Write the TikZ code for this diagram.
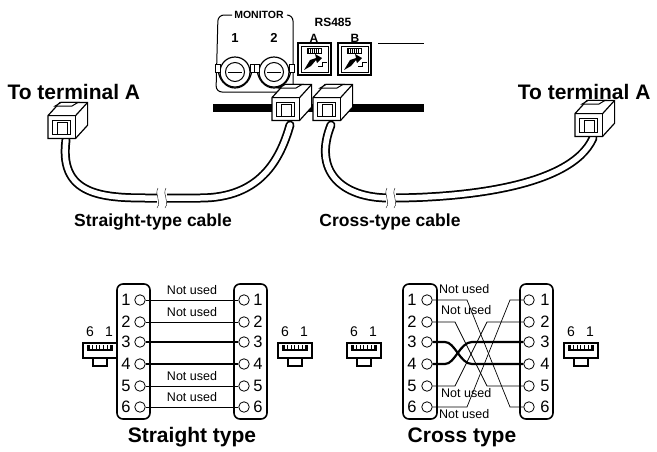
\documentclass[tikz,border=0pt]{standalone}
\usepackage{fontspec}
\setmainfont{Liberation Sans}
\begin{document}
\begin{tikzpicture}[x=1pt,y=-1pt,
 big/.style={font=\bfseries\fontsize{21}{21}\selectfont},
 mid/.style={font=\bfseries\fontsize{17.5}{17.5}\selectfont},
 pin/.style={font=\fontsize{16.5}{16.5}\selectfont},
 nu/.style={font=\fontsize{12.5}{12.5}\selectfont,inner sep=1pt},
 hole/.style={circle,draw,thick,fill=white,minimum size=10.5pt,inner sep=0pt},
 wire/.style={line width=0.7pt},
 thk/.style={line width=2.2pt},
 box/.style={draw,line width=1.6pt,rounded corners=6pt},
 cab/.style={line width=9pt,line cap=round},
 cabi/.style={line width=5.5pt,white,line cap=round}]
\useasboundingbox (0,0) rectangle (657,451);
% ---------- top panel
\node[big,anchor=west] (tl) at (4,92) {To terminal A};
\node[big,anchor=east] (tr) at (654,92) {To terminal A};
\draw[line width=1pt,rounded corners=6pt] (232,15) -- (218,15) -- (216,92) -- (293,92) -- (293,15) -- (287,15);
\node[font=\bfseries\fontsize{10.5}{10.5}\selectfont] (mon) at (259,15) {MONITOR};
\node[font=\bfseries\fontsize{13}{13}\selectfont] (m1) at (235,38) {1};
\node[font=\bfseries\fontsize{13}{13}\selectfont] (m2) at (274,38) {2};
\foreach \x/\n in {235/b1,274/b2}{
 \draw[line width=1.2pt] (\x-17,68) arc (180:0:17 and 20);
 \draw[line width=1.2pt,fill=white] (\x,72) circle (15);
 \draw[line width=1pt] (\x,72) circle (9.5);
 \draw[line width=0.8pt] (\x-7,72) -- (\x+7,72);
 \draw[line width=0.8pt,fill=white] (\x-20,64) rectangle (\x-15,72);
 \draw[line width=0.8pt,fill=white] (\x+15,64) rectangle (\x+20,72);
 \coordinate (\n) at (\x,72);}
\node[font=\bfseries\fontsize{12}{12}\selectfont] (rs) at (333,22) {RS485};
\node[font=\bfseries\fontsize{12}{12}\selectfont] (ja) at (314,38) {A};
\node[font=\bfseries\fontsize{12}{12}\selectfont] (jb) at (355,38) {B};
\foreach \x in {298,338}{
 \draw[line width=1.2pt] (\x,43) rectangle (\x+33,75);
 \draw[line width=0.6pt] (\x+3,46) rectangle (\x+30,72);
 \foreach \i in {0,...,5}\draw (\x+10+\i*2,49) -- (\x+10+\i*2,53);
 \draw[line width=0.6pt] (\x+9,48) rectangle (\x+23,53);
 \fill (\x+6,70) -- (\x+12,60) -- (\x+18,58) -- (\x+17,54) -- (\x+24,58) -- (\x+19,63) -- (\x+18,60) -- (\x+13,66) -- cycle;
 \draw (\x+20,66) -- (\x+24,66) -- (\x+24,62) -- (\x+29,62);}
\coordinate (ln1) at (378,43); \coordinate (ln2) at (424,43);
\draw[line width=0.8pt] (ln1) -- (ln2);
\fill (213,104) rectangle (424,112);
% cables
\coordinate (lp) at (66,140); \coordinate (sp) at (290,125);
\coordinate (cp) at (331,125); \coordinate (rp) at (593,138);
\def\lcab{(lp) .. controls (58,200) and (110,198) .. (160,198) -- (200,198) .. controls (260,198) and (280,160) .. (sp)}
\def\rcab{(cp) .. controls (313,170) and (340,198) .. (390,198) .. controls (450,198) and (570,190) .. (rp)}
\draw[cab] \lcab; \draw[cabi] \lcab;
\draw[cab] \rcab; \draw[cabi] \rcab;
\fill[white] (157,188) rectangle (167,208);
\draw (158,188) .. controls (154,195) and (162,201) .. (157,208);
\draw (166,188) .. controls (162,195) and (170,201) .. (165,208);
\fill[white] (386,188) rectangle (396,208);
\draw (387,188) .. controls (383,195) and (391,201) .. (386,208);
\draw (395,188) .. controls (391,195) and (399,201) .. (394,208);
% plugs
\foreach \x/\y in {66/142, 290/124, 331/124, 593/140}{
\begin{scope}[shift={(\x,\y)},scale=1.2]
 \draw[line width=1.2pt,fill=white] (-15,-3) -- (-15,-22) -- (-5,-33) -- (18,-33) -- (18,-14) -- (8,-3) -- cycle;
 \draw[line width=1.2pt] (-15,-22) -- (8,-22) -- (18,-33);
 \draw[line width=1.2pt] (8,-22) -- (8,-3);
 \draw[line width=1pt] (-11,-18) rectangle (4,-6);
 \draw[line width=1pt] (-7,-16) rectangle (1,-6);
 \draw[line width=1pt,fill=white] (-9,-30) -- (-4,-33) -- (10,-33) -- (5,-30) -- cycle;
\end{scope}}
\node[mid] (sc) at (153,222) {Straight-type cable};
\node[mid] (cc) at (390,222) {Cross-type cable};
% ---------- bottom: plug icons
\foreach \x in {83,278,347,564}{
 \node[font=\fontsize{14}{14}\selectfont] at (\x+7,332) {6};
 \node[font=\fontsize{14}{14}\selectfont] at (\x+26,332) {1};
 \draw[line width=1.2pt,fill=white] (\x,343) rectangle (\x+34,358);
 \foreach \i in {0,...,6}\draw[line width=1pt] (\x+6+\i*3.6,345) -- (\x+6+\i*3.6,350);
 \draw[line width=1.2pt] (\x+5,345) -- (\x+5,350) -- (\x+29,350) -- (\x+29,345);
 \draw[line width=1.2pt] (\x+10,358) rectangle (\x+24,366);}
\draw[box] (117,284) rectangle (150,419);
\draw[box] (234,284) rectangle (267,419);
\draw[box] (403,284) rectangle (437,419);
\draw[box] (520,284) rectangle (553,419);
\foreach \i/\y in {1/300,2/322,3/342,4/364,5/386,6/407}{
 \node[pin] at (126,\y) {\i};
 \node[pin] at (258,\y) {\i};
 \node[pin] at (412,\y) {\i};
 \node[pin] at (545,\y) {\i};
 \node[hole] (sl\i) at (140,\y) {};
 \node[hole] (sr\i) at (244,\y) {};
 \node[hole] (cl\i) at (427,\y) {};
 \node[hole] (cr\i) at (529,\y) {};}
\foreach \i in {1,2,5,6}\draw[wire] (sl\i) -- (sr\i);
\draw[thk] (sl3) -- (sr3); \draw[thk] (sl4) -- (sr4);
\node[nu] at (192,290) {Not used};
\node[nu] at (192,312) {Not used};
\node[nu] at (192,376) {Not used};
\node[nu] at (192,397) {Not used};
\node[big] (st) at (192,437) {Straight type};
% cross
\draw[wire] (cl1) -- (467,300) -- (510,407) -- (cr6);
\draw[wire] (cl2) -- (455,322) -- (487,386) -- (cr5);
\draw[wire] (cl5) -- (455,386) -- (487,322) -- (cr2);
\draw[wire] (cl6) -- (467,407) -- (510,300) -- (cr1);
\draw[thk] (cl3) -- (445,342) .. controls (455,342) and (460,364) .. (472,364) -- (cr4);
\draw[thk] (cl4) -- (445,364) .. controls (455,364) and (460,342) .. (472,342) -- (cr3);
\node[nu,anchor=west] at (438,289) {Not used};
\node[nu,anchor=west] at (440,310) {Not used};
\node[nu,anchor=west] at (440,393) {Not used};
\node[nu,anchor=west] at (438,414) {Not used};
\node[big] (ct) at (462,437) {Cross type};
\end{tikzpicture}
\end{document}
